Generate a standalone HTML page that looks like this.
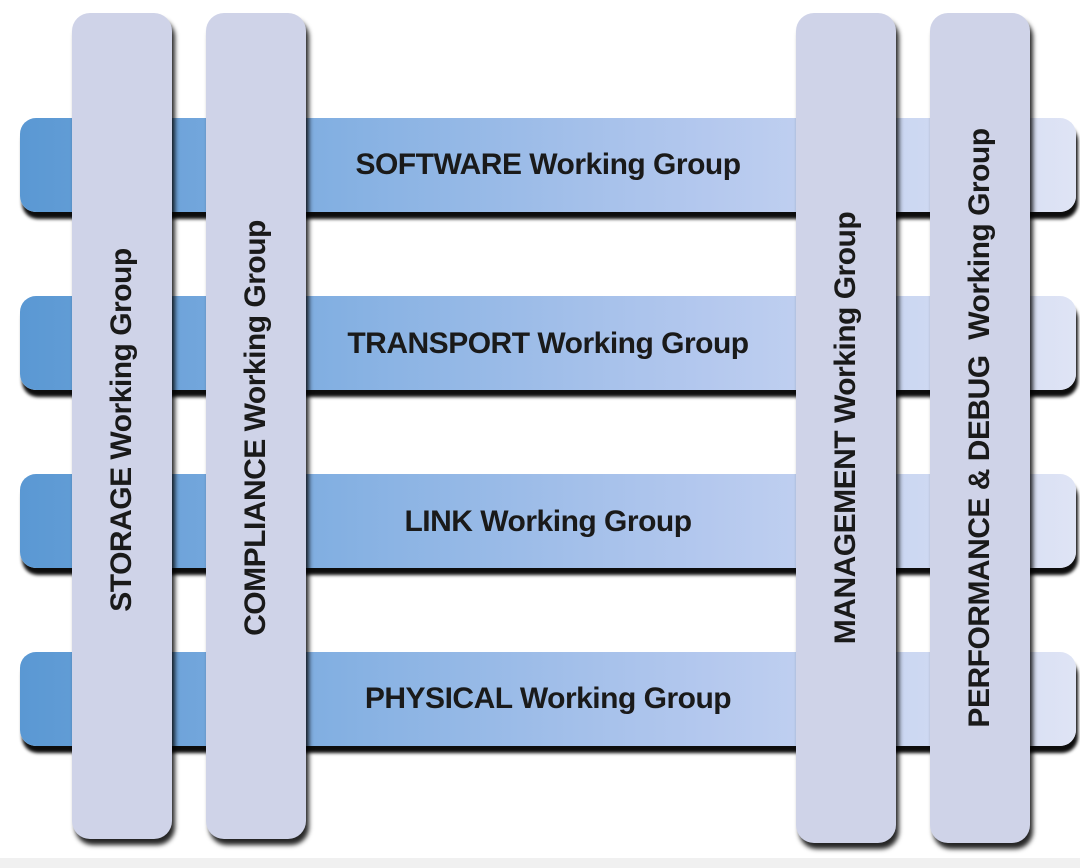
<!DOCTYPE html>
<html><head><meta charset="utf-8"><style>
html,body{margin:0;padding:0;}
body{width:1080px;height:868px;background:#fff;position:relative;overflow:hidden;font-family:"Liberation Sans",Arial,sans-serif;}
.h{position:absolute;left:20px;width:1056px;height:94px;border-radius:16px;
background:linear-gradient(to right,#5a98d3 0%,#84b0e2 30%,#b4c8ee 65%,#dfe4f5 100%);
box-shadow:2px 7px 3px rgba(0,0,0,0.95);}
.ht{position:absolute;left:250px;width:596px;text-align:center;font-weight:bold;font-size:30px;color:#1a1a1a;line-height:94px;letter-spacing:-0.5px;}
.v{position:absolute;top:13px;width:100px;height:826px;border-radius:18px;background:#cfd3e8;
box-shadow:3px 6px 5px rgba(0,0,0,0.85);}
.vt{position:absolute;left:50%;top:50%;transform:translate(-50%,-50%) rotate(-90deg);white-space:nowrap;font-weight:bold;font-size:30px;color:#1a1a1a;letter-spacing:-0.5px;}
.strip{position:absolute;left:0;top:858px;width:1080px;height:10px;background:#f0f0f0;}
</style></head><body>
<div class="h" style="top:118px"></div>
<div class="h" style="top:296px"></div>
<div class="h" style="top:474px"></div>
<div class="h" style="top:652px"></div>
<div class="ht" style="top:118px">SOFTWARE Working Group</div>
<div class="ht" style="top:297px">TRANSPORT Working Group</div>
<div class="ht" style="top:475px">LINK Working Group</div>
<div class="ht" style="top:652px">PHYSICAL Working Group</div>
<div class="v" style="left:72px"><div class="vt" style="margin-top:4px">STORAGE Working Group</div></div>
<div class="v" style="left:206px"><div class="vt" style="margin-top:2px">COMPLIANCE Working Group</div></div>
<div class="v" style="left:796px;height:830px"><div class="vt" style="margin-top:0px">MANAGEMENT Working Group</div></div>
<div class="v" style="left:930px;height:830px"><div class="vt" style="margin-top:0px">PERFORMANCE &amp; DEBUG&nbsp; Working Group</div></div>
<div class="strip"></div>
</body></html>
